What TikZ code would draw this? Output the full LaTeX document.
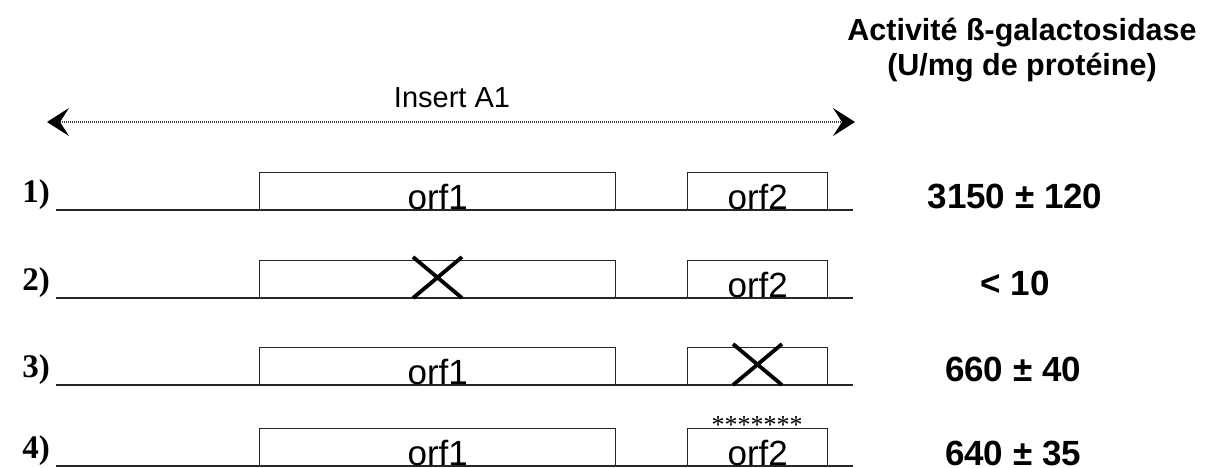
\documentclass[tikz,border=0pt]{standalone}
\usepackage{fontspec}
\setmainfont{Liberation Sans}
\newfontfamily\serifbold{Liberation Serif}[BoldFont={* Bold}]
\usetikzlibrary{arrows.meta}
\tikzset{
  dna/.style={line width=1.7pt, black!85},
  orfbox/.style={draw=black!85, line width=1.4pt, fill=white},
  orflabel/.style={anchor=base, inner sep=0pt, font=\fontsize{35}{35}\selectfont},
  rowlabel/.style={anchor=base, inner sep=0pt, font=\serifbold\bfseries\fontsize{33}{33}\selectfont},
  activity/.style={anchor=base, inner sep=0pt, font=\bfseries\fontsize{35}{35}\selectfont},
  knockout/.style={line width=3.8pt},
  bigtip/.style={Stealth[length=22pt,width=28pt,inset=9pt,black]},
  insertarrow/.style={dash pattern=on 1pt off 1pt, line width=1.3pt, black!75,
    {Stealth[length=22pt,width=28pt,inset=9pt,black]}-{Stealth[length=22pt,width=28pt,inset=9pt,black]}}
}
\begin{document}
\begin{tikzpicture}[x=1pt,y=-1pt]
\useasboundingbox (0,0) rectangle (1205,468);

% header
\node[font=\bfseries\fontsize{30.5}{35}\selectfont, align=center, inner sep=0pt] (head) at (1022,50)
  {Activité ß-galactosidase\\(U/mg de protéine)};

% insert extent
\coordinate (insL) at (47,122);
\coordinate (insR) at (855,122);
\draw[insertarrow] (insL) -- (insR);
\node[font=\fontsize{29}{29}\selectfont, anchor=base, inner sep=0pt] (ins) at (452,108) {Insert A1};

% four constructs
\foreach \i/\y in {1/210, 2/298, 3/385, 4/466} {
  \coordinate (s\i) at (56,\y);
  \coordinate (e\i) at (853,\y);
  \node[orfbox, minimum width=356pt, minimum height=37pt, anchor=south west, inner sep=0pt] (orfA\i) at (259,\y) {};
  \node[orfbox, minimum width=140pt, minimum height=37pt, anchor=south west, inner sep=0pt] (orfB\i) at (687,\y) {};
  \draw[dna] (s\i) -- (e\i);
  \node[rowlabel] (lab\i) at (36,\y-8) {\i)};
}

% box labels
\node[orflabel] (t11) at ([yshift=1pt]orfA1.south) {orf1};
\node[orflabel] (t12) at ([yshift=1pt]orfB1.south) {orf2};
\node[orflabel] (t22) at ([yshift=1pt]orfB2.south) {orf2};
\node[orflabel] (t31) at ([yshift=1pt]orfA3.south) {orf1};
\node[orflabel] (t41) at ([yshift=1pt]orfA4.south) {orf1};
\node[orflabel] (t42) at ([yshift=1pt]orfB4.south) {orf2};

% disrupted genes
\draw[knockout] (413,257) -- (462,298) (462,257) -- (413,298);
\draw[knockout] (733,344) -- (782,385) (782,344) -- (733,385);

% point mutations in orf2
\node[font=\serifbold\fontsize{26}{26}\selectfont, inner sep=0pt] (stars) at (757,425) {*******};

% measured activities
\node[activity] (v1) at (1015,208) {3150 ± 120};
\node[activity] (v2) at (1015,295) {< 10};
\node[activity] (v3) at (1013,381) {660 ± 40};
\node[activity] (v4) at (1013,465) {640 ± 35};
\end{tikzpicture}
\end{document}
